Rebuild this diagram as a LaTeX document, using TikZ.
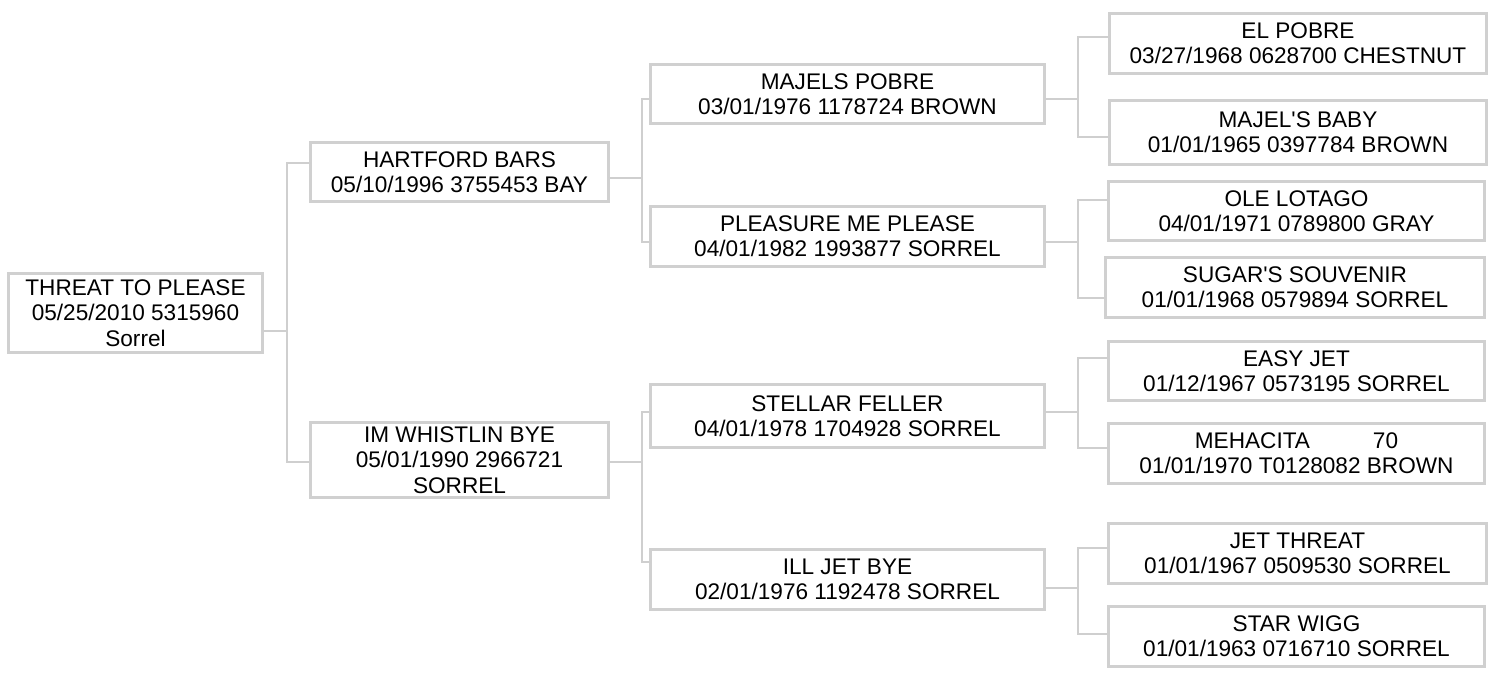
\documentclass[tikz,border=0pt]{standalone}
\usepackage{fontspec}
\setmainfont{Liberation Sans}
\definecolor{boxgray}{HTML}{D0D0D0}
\definecolor{linegray}{HTML}{CFCFCF}
\tikzset{
  pbox/.style={draw=boxgray, line width=3pt, fill=white, inner sep=0pt, outer sep=0pt,
    align=center, font=\fontsize{22.6}{25.3}\selectfont, text=black},
  conn/.style={draw=linegray, line width=1.3pt}
}
\newcommand\pedbox[6]{%
  \node[pbox, minimum width={(#4-#2-3)*1pt}, minimum height={(#5-#3-3)*1pt}]
    (#1) at ({(#2+#4)/2},{(#3+#5)/2}) {#6};}
\begin{document}
\begin{tikzpicture}[x=1pt,y=-1pt]
\useasboundingbox[fill=white] (0,0) rectangle (1500,678);
% generation 0
\pedbox{root}{7}{272}{264}{354}{THREAT TO PLEASE\\05/25/2010 5315960\\Sorrel}
% generation 1
\pedbox{hart}{309}{141}{610}{203}{HARTFORD BARS\\05/10/1996 3755453 BAY}
\pedbox{whis}{309}{421}{610}{499}{IM WHISTLIN BYE\\05/01/1990 2966721\\SORREL}
% generation 2
\pedbox{majp}{649}{63}{1046}{125}{MAJELS POBRE\\03/01/1976 1178724 BROWN}
\pedbox{plea}{649}{205}{1046}{268}{PLEASURE ME PLEASE\\04/01/1982 1993877 SORREL}
\pedbox{stel}{649}{383}{1046}{449}{STELLAR FELLER\\04/01/1978 1704928 SORREL}
\pedbox{illj}{649}{548}{1046}{611}{ILL JET BYE\\02/01/1976 1192478 SORREL}
% generation 3
\pedbox{elpo}{1108}{12}{1488}{75}{EL POBRE\\03/27/1968 0628700 CHESTNUT}
\pedbox{majb}{1108}{99}{1488}{166}{MAJEL\textquotesingle S BABY\\01/01/1965 0397784 BROWN}
\pedbox{olel}{1107}{180}{1486}{242}{OLE LOTAGO\\04/01/1971 0789800 GRAY}
\pedbox{suga}{1104}{256}{1486}{319}{SUGAR\textquotesingle S SOUVENIR\\01/01/1968 0579894 SORREL}
\pedbox{easy}{1107}{340}{1486}{402}{EASY JET\\01/12/1967 0573195 SORREL}
\pedbox{meha}{1107}{422}{1486}{485}{MEHACITA\hspace{63pt}70\\01/01/1970 T0128082 BROWN}
\pedbox{jett}{1107}{522}{1488}{585}{JET THREAT\\01/01/1967 0509530 SORREL}
\pedbox{star}{1107}{605}{1486}{668}{STAR WIGG\\01/01/1963 0716710 SORREL}
% junction coordinates
\coordinate (j0o) at (287,331);
\coordinate (j0a) at (287,163);
\coordinate (j0b) at (287,462);
\coordinate (j1ao) at (642,178);
\coordinate (j1aa) at (642,99);
\coordinate (j1ab) at (642,242);
\coordinate (j1bo) at (642,462);
\coordinate (j1ba) at (642,412);
\coordinate (j1bb) at (642,562);
\coordinate (j2ao) at (1078,99);
\coordinate (j2aa) at (1078,37);
\coordinate (j2ab) at (1078,137);
\coordinate (j2bo) at (1078,242);
\coordinate (j2ba) at (1078,200);
\coordinate (j2bb) at (1078,298);
\coordinate (j2co) at (1078,412);
\coordinate (j2ca) at (1078,358);
\coordinate (j2cb) at (1078,448);
\coordinate (j2do) at (1078,588);
\coordinate (j2da) at (1078,548);
\coordinate (j2db) at (1078,634);
% connectors
\draw[conn] (root.east |- j0o) -- (j0o);
\draw[conn] (hart.west |- j0a) -- (j0a) -- (j0b) -- (whis.west |- j0b);
\draw[conn] (hart.east |- j1ao) -- (j1ao);
\draw[conn] (majp.west |- j1aa) -- (j1aa) -- (j1ab) -- (plea.west |- j1ab);
\draw[conn] (whis.east |- j1bo) -- (j1bo);
\draw[conn] (stel.west |- j1ba) -- (j1ba) -- (j1bb) -- (illj.west |- j1bb);
\draw[conn] (majp.east |- j2ao) -- (j2ao);
\draw[conn] (elpo.west |- j2aa) -- (j2aa) -- (j2ab) -- (majb.west |- j2ab);
\draw[conn] (plea.east |- j2bo) -- (j2bo);
\draw[conn] (olel.west |- j2ba) -- (j2ba) -- (j2bb) -- (suga.west |- j2bb);
\draw[conn] (stel.east |- j2co) -- (j2co);
\draw[conn] (easy.west |- j2ca) -- (j2ca) -- (j2cb) -- (meha.west |- j2cb);
\draw[conn] (illj.east |- j2do) -- (j2do);
\draw[conn] (jett.west |- j2da) -- (j2da) -- (j2db) -- (star.west |- j2db);
\end{tikzpicture}
\end{document}
